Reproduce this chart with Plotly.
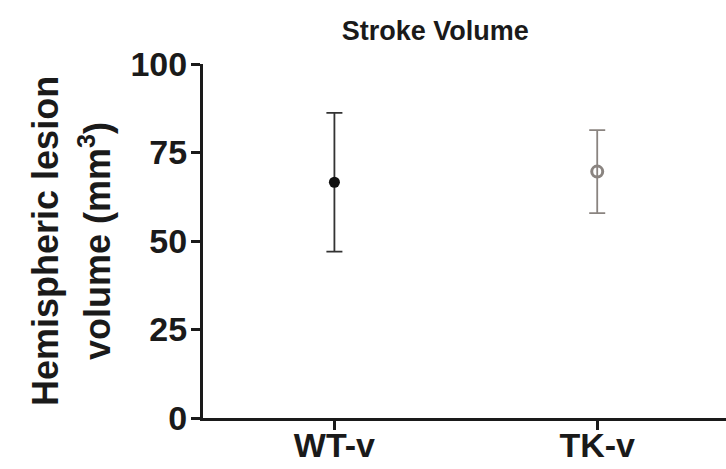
import plotly.graph_objects as go

categories = ["WT-v", "TK-v"]
means = [66.6, 69.6]
sem = [19.6, 11.7]
marker_colors = ["#111111", "#8a8480"]
err_colors = ["#333333", "#8a8480"]
ytitle_lines = ["Hemispheric lesion", "volume (mm<sup>3</sup>)"]

FONT = "Liberation Sans, Arial, Helvetica, sans-serif"
INK = "#1a1a1a"

fig = go.Figure()
fig.add_trace(go.Scatter(
    x=[categories[0]], y=[means[0]], mode="markers",
    marker=dict(symbol="circle", size=11, color=marker_colors[0]),
    error_y=dict(type="data", array=[sem[0]], color=err_colors[0], thickness=1.8, width=8),
    showlegend=False))
fig.add_trace(go.Scatter(
    x=[categories[1]], y=[means[1]], mode="markers",
    marker=dict(symbol="circle-open", size=11, color=marker_colors[1],
                line=dict(width=3, color=marker_colors[1])),
    error_y=dict(type="data", array=[sem[1]], color=err_colors[1], thickness=1.8, width=8),
    showlegend=False))

fig.update_layout(
    width=726, height=469,
    margin=dict(l=203, r=0, t=64, b=51),
    paper_bgcolor="white", plot_bgcolor="white",
    font=dict(family=FONT, color=INK),
    title=dict(text="Stroke Volume", x=0.444, xref="paper", xanchor="center",
               y=1 - 31 / 469, yref="container", yanchor="middle",
               font=dict(family=FONT, size=27, weight="bold", color=INK)),
)
fig.update_xaxes(
    type="category", categoryorder="array", categoryarray=categories,
    range=[-0.5, 1.49], automargin=False,
    showline=True, linecolor=INK, linewidth=3,
    ticks="outside", ticklen=9, tickwidth=3, tickcolor=INK,
    showgrid=False, zeroline=False, ticklabelstandoff=-14,
    tickfont=dict(family=FONT, size=34, weight="bold", color=INK),
)
fig.update_yaxes(
    range=[0, 100], tickvals=[0, 25, 50, 75, 100], automargin=False,
    showline=True, linecolor=INK, linewidth=3,
    ticks="outside", ticklen=9, tickwidth=3, tickcolor=INK,
    showgrid=False, zeroline=False, ticklabelstandoff=-3,
    tickfont=dict(family=FONT, size=34, weight="bold", color=INK),
)

for txt, xpx in zip(ytitle_lines, [45, 95]):
    fig.add_annotation(
        text=txt, textangle=-90, showarrow=False,
        xref="paper", x=(xpx - 203) / 523, xanchor="center",
        yref="paper", y=0.5, yanchor="middle",
        font=dict(family=FONT, size=36, weight="bold", color=INK))

fig.write_html("out.html")
